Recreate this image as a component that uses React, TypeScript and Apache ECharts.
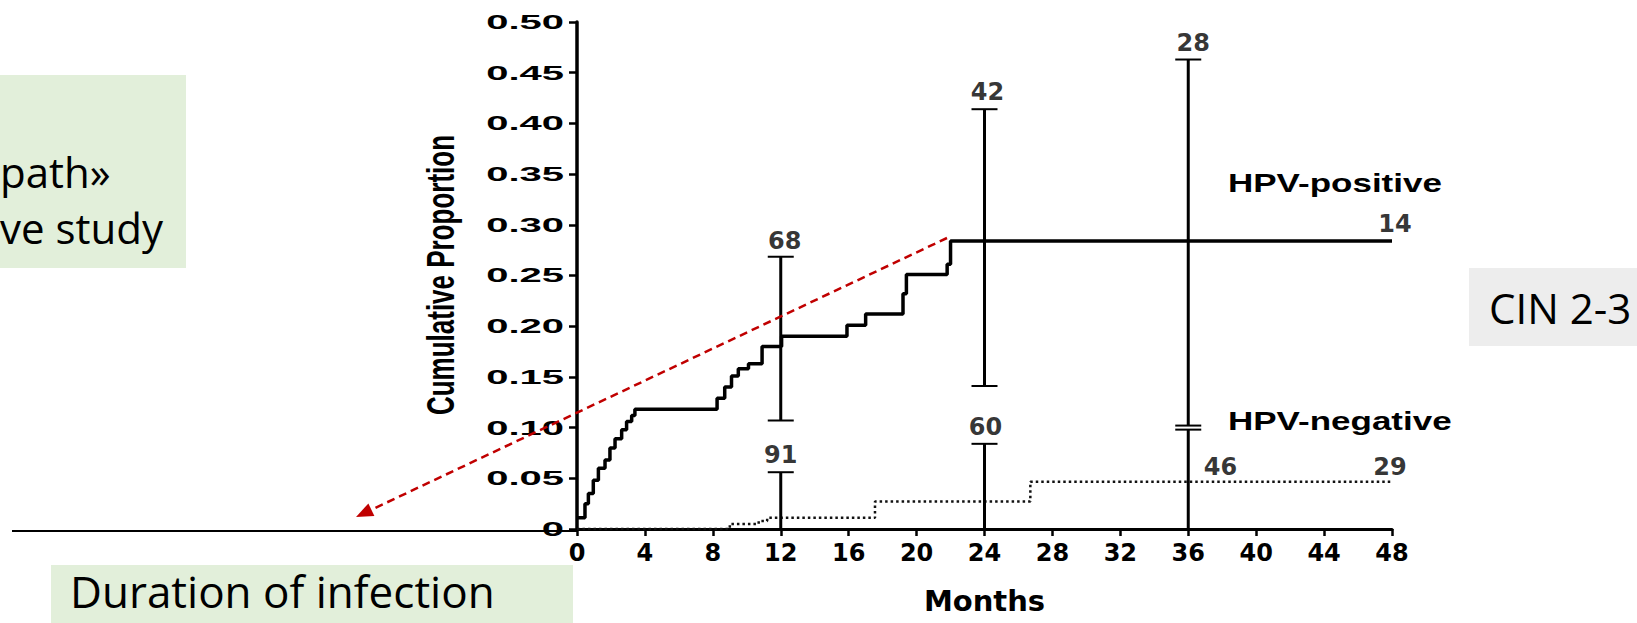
import { useEffect, useRef } from 'react';
import * as echarts from 'echarts';

// ---- data ----
const posMonths = [0, 0.47, 0.67, 0.96, 1.26, 1.65, 1.94, 2.24, 2.63, 2.92, 3.22, 3.41, 8.25, 8.7, 9.1, 9.5, 10.1, 10.9, 12.05, 15.9, 17.0, 19.2, 19.4, 21.8, 22.0, 48];
const posProportion = [0.011, 0.025, 0.035, 0.048, 0.06, 0.068, 0.08, 0.089, 0.098, 0.106, 0.112, 0.118, 0.129, 0.14, 0.151, 0.158, 0.163, 0.18, 0.19, 0.201, 0.212, 0.232, 0.251, 0.261, 0.284, 0.284];
const negMonths = [0, 9.0, 10.7, 11.2, 17.55, 26.7, 48];
const negProportion = [0, 0.005, 0.008, 0.011, 0.027, 0.0466, 0.0466];
const ciMonths = [12, 24, 36];
const posCiLow = [0.107, 0.141, 0.102];
const posCiHigh = [0.2685, 0.414, 0.463];
const negCiLow = [0, 0, 0];
const negCiHigh = [0.056, 0.084, 0.098];
const atRiskText = ['68', '42', '28', '91', '60', '46', '29', '14'];
const atRiskMonth = [12, 24, 36, 12, 24, 37.9, 48, 48];
const atRiskValue = [0.2685, 0.414, 0.463, 0.056, 0.084, 0.0466, 0.0466, 0.284];
const yTickValues = [0, 0.05, 0.1, 0.15, 0.2, 0.25, 0.3, 0.35, 0.4, 0.45, 0.5];
const yTickLabels = ['0', '0.05', '0.10', '0.15', '0.20', '0.25', '0.30', '0.35', '0.40', '0.45', '0.50'];
const xMin = 0, xMax = 48, xStep = 4;
const yMin = 0, yMax = 0.5, yStep = 0.05;

// ---- styles (label placement, not data) ----
const atRiskOffsets = [[4, -4], [3, -5], [5, -5], [0, -5], [1, -5], [0, -3], [-2, -3], [3, -5]];

const figFont = 'DejaVu Sans, sans-serif';
const helv = 'Liberation Sans, Arial, sans-serif';
const slideFont = 'Open Sans, Noto Sans, sans-serif';

export default function App() {
  const ref = useRef<HTMLDivElement>(null);
  useEffect(() => {
    if (!ref.current) return;
    const chart = echarts.init(ref.current, null, { renderer: 'svg' });

    const errRender = (capLow: boolean) => (params: any, api: any) => {
      const x = api.value(0);
      const lo = api.coord([x, api.value(1)]);
      const hi = api.coord([x, api.value(2)]);
      const hw = 13;
      const children: any[] = [
        { type: 'line', shape: { x1: lo[0], y1: lo[1], x2: hi[0], y2: hi[1] }, style: { stroke: '#000', lineWidth: 3 } },
        { type: 'line', shape: { x1: hi[0] - hw, y1: hi[1], x2: hi[0] + hw, y2: hi[1] }, style: { stroke: '#000', lineWidth: 2 } },
      ];
      if (capLow) children.push({ type: 'line', shape: { x1: lo[0] - hw, y1: lo[1], x2: lo[0] + hw, y2: lo[1] }, style: { stroke: '#000', lineWidth: 2 } });
      return { type: 'group', children };
    };

    const yLabelRender = (params: any, api: any) => {
      const p = api.coord([api.value(0), api.value(1)]);
      return {
        type: 'text', x: p[0] - 13, y: p[1], scaleX: 2.0,
        style: { text: yTickLabels[params.dataIndex], fill: '#000', font: `bold 20px ${helv}`, align: 'right', verticalAlign: 'middle' },
      };
    };

    // red arrow geometry (slide annotation, pixel space)
    const start = [947, 238];
    const tip = [356, 517];
    const dx = start[0] - tip[0], dy = start[1] - tip[1];
    const len = Math.hypot(dx, dy);
    const ux = dx / len, uy = dy / len;
    const al = 17, aw = 7;
    const bx = tip[0] + ux * al, by = tip[1] + uy * al;
    const nx = -uy, ny = ux;

    chart.setOption({
      animation: false,
      backgroundColor: '#fff',
      textStyle: { fontFamily: figFont, color: '#000' },
      grid: { left: 577, top: 22, width: 815, height: 507, containLabel: false, outerBoundsMode: 'none' },
      xAxis: {
        type: 'value', min: xMin, max: xMax, interval: xStep,
        name: 'Months', nameLocation: 'middle', nameGap: 57,
        nameTextStyle: { fontFamily: figFont, fontWeight: 'bold', fontSize: 29, color: '#000' },
        axisLine: { show: true, lineStyle: { color: '#000', width: 3 } },
        axisTick: { show: true, length: 7, lineStyle: { color: '#000', width: 2.5 } },
        axisLabel: { color: '#000', fontFamily: figFont, fontWeight: 'bold', fontSize: 24, margin: 12 },
        splitLine: { show: false },
      },
      yAxis: {
        type: 'value', min: yMin, max: yMax, interval: yStep,
        axisLine: { show: true, lineStyle: { color: '#000', width: 3.5 } },
        axisTick: { show: true, length: 8, lineStyle: { color: '#000', width: 2.5 } },
        axisLabel: { show: false },
        splitLine: { show: false },
      },
      series: [
        {
          name: 'HPV-positive', type: 'line', step: 'end', symbol: 'none',
          data: posMonths.map((m, i) => [m, posProportion[i]]),
          lineStyle: { color: '#000', width: 3.5 }, z: 3,
        },
        {
          name: 'HPV-negative', type: 'line', step: 'end', symbol: 'none',
          data: negMonths.map((m, i) => [m, negProportion[i]]),
          lineStyle: { color: '#111', width: 2.5, type: [2.5, 3] }, z: 3,
        },
        {
          name: 'CI positive', type: 'custom', renderItem: errRender(true),
          encode: { x: 0, y: [1, 2] },
          data: ciMonths.map((m, i) => [m, posCiLow[i], posCiHigh[i]]), z: 4,
        },
        {
          name: 'CI negative', type: 'custom', renderItem: errRender(false),
          encode: { x: 0, y: [1, 2] },
          data: ciMonths.map((m, i) => [m, negCiLow[i], negCiHigh[i]]), z: 4,
        },
        {
          name: 'Y tick labels', type: 'custom', renderItem: yLabelRender, silent: true, clip: false,
          encode: { x: 0, y: 1 },
          data: yTickValues.map((v) => [0, v]), z: 4,
        },
        {
          name: 'At risk', type: 'scatter', symbolSize: 0, silent: true,
          data: atRiskText.map((t, i) => ({
            value: [atRiskMonth[i], atRiskValue[i]],
            label: {
              show: true, formatter: t, position: 'top', distance: 0,
              offset: atRiskOffsets[i], color: '#000',
              fontFamily: figFont, fontWeight: 'bold', fontSize: 24,
            },
          })),
          z: 5,
        },
      ],
      graphic: [
        // slide annotations
        { type: 'rect', shape: { x: 0, y: 75, width: 186, height: 193 }, style: { fill: '#E2EFDA' }, z: 0 },
        { type: 'text', x: 0, y: 171, style: { text: 'path»', font: `42px ${slideFont}`, fill: '#000', align: 'left', verticalAlign: 'middle' }, z: 1 },
        { type: 'text', x: 0, y: 227, style: { text: 've study', font: `42px ${slideFont}`, fill: '#000', align: 'left', verticalAlign: 'middle' }, z: 1 },
        { type: 'rect', shape: { x: 51, y: 565, width: 522, height: 58 }, style: { fill: '#E2EFDA' }, z: 0 },
        { type: 'text', x: 70, y: 591, style: { text: 'Duration of infection', font: `44px ${slideFont}`, fill: '#000', align: 'left', verticalAlign: 'middle' }, z: 1 },
        { type: 'rect', shape: { x: 1469, y: 268, width: 168, height: 78 }, style: { fill: '#EDEDED' }, z: 0 },
        { type: 'text', x: 1489, y: 307, style: { text: 'CIN 2-3', font: `42px ${slideFont}`, fill: '#000', align: 'left', verticalAlign: 'middle' }, z: 1 },
        { type: 'line', shape: { x1: 12, y1: 531, x2: 577, y2: 531 }, style: { stroke: '#000', lineWidth: 2 }, z: 1 },
        { type: 'line', shape: { x1: start[0], y1: start[1], x2: bx, y2: by }, style: { stroke: '#C00000', lineWidth: 2.5, lineDash: [8, 5] }, z: 10 },
        {
          type: 'polygon',
          shape: { points: [[tip[0], tip[1]], [bx + nx * aw, by + ny * aw], [bx - nx * aw, by - ny * aw]] },
          style: { fill: '#C00000' }, z: 10,
        },
        // figure texts
        { type: 'text', x: 440, y: 275, rotation: Math.PI / 2, scaleY: 1.5, style: { text: 'Cumulative Proportion', font: `bold 26px ${helv}`, fill: '#000', align: 'center', verticalAlign: 'middle' }, z: 5 },
        { type: 'text', x: 1228, y: 183, scaleX: 1.4, style: { text: 'HPV-positive', font: `bold 25px ${helv}`, fill: '#000', align: 'left', verticalAlign: 'middle' }, z: 5 },
        { type: 'text', x: 1228, y: 421, scaleX: 1.4, style: { text: 'HPV-negative', font: `bold 25px ${helv}`, fill: '#000', align: 'left', verticalAlign: 'middle' }, z: 5 },
      ],
    });
    return () => chart.dispose();
  }, []);
  return (
    <div
      ref={ref}
      style={{ position: 'absolute', left: 0, top: 0, width: 1637, height: 623, background: '#fff' }}
    />
  );
}
